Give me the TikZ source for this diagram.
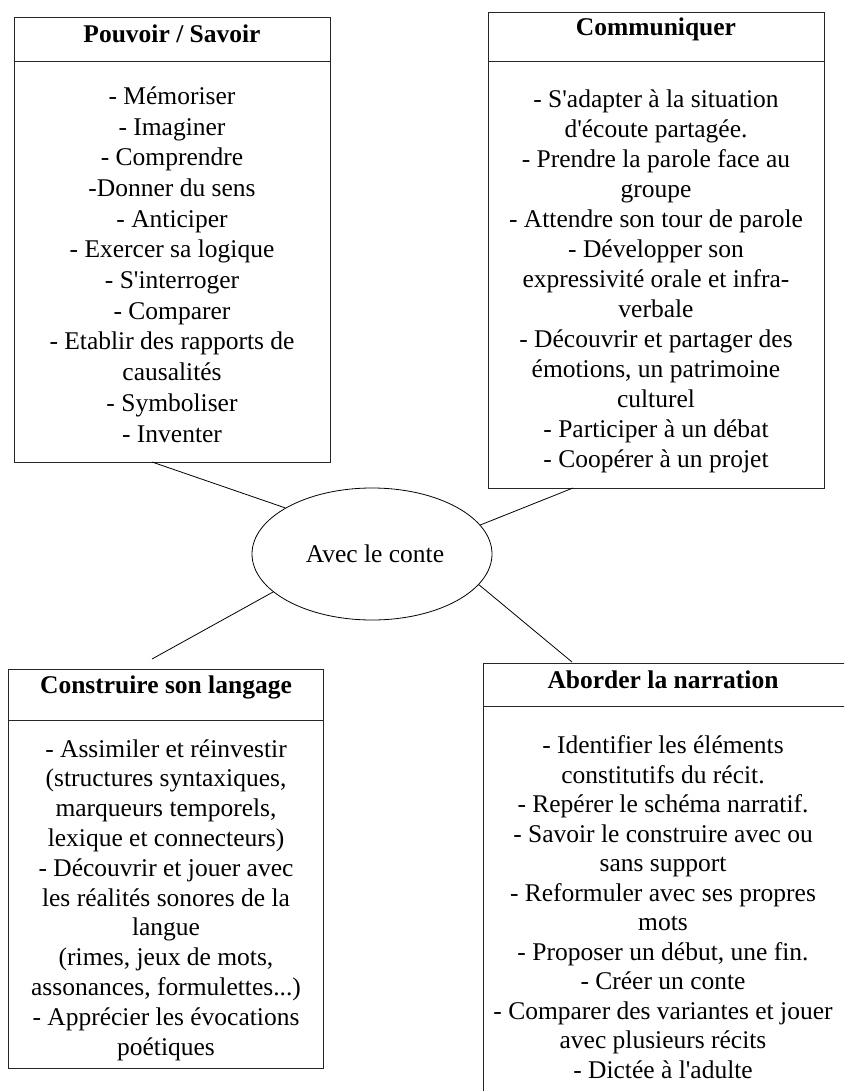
\documentclass[tikz,border=0pt]{standalone}
\usepackage{fontspec}
\setmainfont{Liberation Serif}
\usetikzlibrary{shapes.geometric}
\newcommand{\ap}{\textquotesingle}
\begin{document}
\begin{tikzpicture}[x=1pt,y=1pt,
  box/.style={draw=black!85, line width=0.9pt, inner sep=0pt, outer sep=0pt, anchor=north west},
  divider/.style={draw=black!85, line width=0.9pt},
  head/.style={font=\fontsize{25.5}{30}\selectfont\bfseries, anchor=base, inner sep=0pt},
  body/.style={align=center, anchor=base, inner sep=0pt},
  link/.style={draw=black, line width=0.8pt}]
\useasboundingbox (0,0) rectangle (844,-1091);
\clip (0,0) rectangle (844,-1091);
% boxes
\node[box, minimum width=316pt, minimum height=445pt] (b1) at (14,-17) {};
\node[box, minimum width=336pt, minimum height=476pt] (b2) at (488,-12) {};
\node[box, minimum width=315pt, minimum height=399pt] (b3) at (8,-669) {};
\node[box, minimum width=362pt, minimum height=440pt] (b4) at (483,-663) {};
% dividers
\draw[divider] (b1.west |- 0,-61) -- (b1.east |- 0,-61);
\draw[divider] (b2.west |- 0,-61) -- (b2.east |- 0,-61);
\draw[divider] (b3.west |- 0,-720) -- (b3.east |- 0,-720);
\draw[divider] (b4.west |- 0,-706) -- (b4.east |- 0,-706);
% headers
\node[head] (h1) at (172,-43) {Pouvoir / Savoir};
\node[head] (h2) at (656,-36) {Communiquer};
\node[head] (h3) at (166,-693) {Construire son langage};
\node[head] (h4) at (663,-688) {Aborder la narration};
% bodies (anchored at the baseline of the last line)
\node[body, font=\fontsize{25.5}{30.7}\selectfont] (t1) at (172,-442) {- Mémoriser\\- Imaginer\\- Comprendre\\-Donner du sens\\- Anticiper\\- Exercer sa logique\\- S\ap interroger\\- Comparer\\- Etablir des rapports de\\causalités\\- Symboliser\\- Inventer};
\node[body, font=\fontsize{25.5}{30}\selectfont] (t2) at (656,-467) {- S\ap adapter à la situation\\d\ap écoute partagée.\\- Prendre la parole face au\\groupe\\- Attendre son tour de parole\\- Développer son\\expressivité orale et infra-\\verbale\\- Découvrir et partager des\\émotions, un patrimoine\\culturel\\- Participer à un débat\\- Coopérer à un projet};
\node[body, font=\fontsize{25.5}{29.8}\selectfont] (t3) at (166,-1055) {- Assimiler et réinvestir\\(structures syntaxiques,\\marqueurs temporels,\\lexique et connecteurs)\\- Découvrir et jouer avec\\les réalités sonores de la\\langue\\(rimes, jeux de mots,\\assonances, formulettes...)\\- Apprécier les évocations\\poétiques};
\node[body, font=\fontsize{25.5}{29.5}\selectfont] (t4) at (663,-1078) {- Identifier les éléments\\constitutifs du récit.\\- Repérer le schéma narratif.\\- Savoir le construire avec ou\\sans support\\- Reformuler avec ses propres\\mots\\- Proposer un début, une fin.\\- Créer un conte\\- Comparer des variantes et jouer\\avec plusieurs récits\\- Dictée à l\ap adulte};
% centre
\node[ellipse, draw=black, line width=0.8pt, minimum width=240pt, minimum height=132pt, inner sep=0pt,
  font=\fontsize{25.5}{30}\selectfont] (ell) at (372,-554) {\hspace{6pt}Avec le conte};
% connector ends
\coordinate (c1) at (152,-462);
\coordinate (c2) at (573,-488);
\coordinate (c3) at (152,-659);
\coordinate (c4) at (572,-662);
\draw[link] (ell.152) -- (c1);
\draw[link] (ell.15) -- (c2);
\draw[link] (ell.201) -- (c3);
\draw[link] (ell.344) -- (c4);
\end{tikzpicture}
\end{document}
